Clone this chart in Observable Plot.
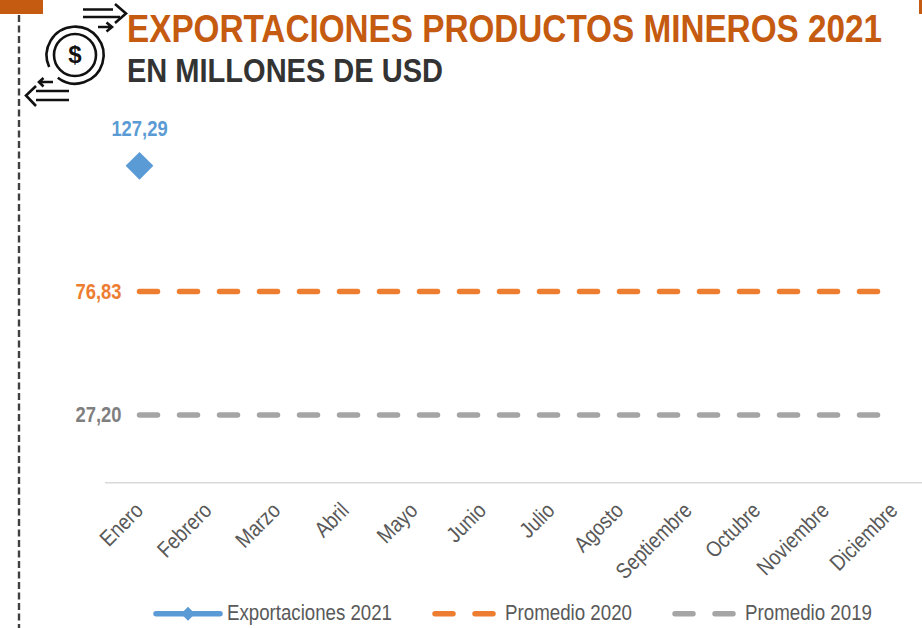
<!DOCTYPE html>
<html><head><meta charset="utf-8">
<script src="https://cdn.jsdelivr.net/npm/d3@7"></script>
<script src="https://cdn.jsdelivr.net/npm/@observablehq/plot@0.6"></script>
<style>
html,body{margin:0;padding:0;background:#fff;overflow:hidden}
#page{position:relative;width:922px;height:628px;overflow:hidden;font-family:"Liberation Sans",sans-serif}
.t{position:absolute;white-space:nowrap;line-height:1;font-weight:700;transform-origin:0 0}
#t1{left:127px;top:9px;font-size:39px;color:#c55a11}
#t2{left:127px;top:53px;font-size:34px;color:#333}
#chart{position:absolute;left:0;top:100px}
#legend{position:absolute;left:0;top:600px;width:922px;height:28px;font-size:22px;color:#595959}
#legend span.l{position:absolute;top:1px;white-space:nowrap;line-height:1.1;transform-origin:0 0}
#legend svg{position:absolute;top:0}
#deco{position:absolute;left:0;top:0}
</style></head><body>
<div id="page">
<svg id="deco" width="922" height="628">
  <rect x="0" y="0" width="43" height="14" fill="#c55a11"/>
  <rect x="919" y="0" width="3" height="14" fill="#c55a11"/>
  <line x1="19" y1="15" x2="19" y2="628" stroke="#404040" stroke-width="2.4" stroke-dasharray="7 3.5"/>
  <g fill="none" stroke="#111" stroke-width="2.6">
    <path d="M49.200 67A28.500 28.500 0 1 1 57.800 77.800"/>
    <circle cx="75" cy="55" r="21"/>
    <path d="M83 9.500H113M83 17H120M115 4l11 9.500-11 9.500M98 27H112M106.500 22.500l5.500 4.500-5.500 4.500"/>
    <path d="M69 91H36M69 100H36M36 86l-10 9.500 10 10.500M53 82H40M43.500 78l-4.500 4 4.500 4.500"/>
  </g>
  <text x="75" y="63" text-anchor="middle" font-size="24" font-weight="700" font-family="Liberation Sans" fill="#111">$</text>
</svg>
<div class="t" id="t1">EXPORTACIONES PRODUCTOS MINEROS 2021</div>
<div class="t" id="t2">EN MILLONES DE USD</div>
<div id="chart"></div>
<div id="legend"></div>
</div>
<script>
const meses = ["Enero","Febrero","Marzo","Abril","Mayo","Junio","Julio","Agosto","Septiembre","Octubre","Noviembre","Diciembre"];
const exportaciones2021 = [127.29];
const promedio2020 = 76.83;
const promedio2019 = 27.20;
const etiquetas = {exp:"127,29", p20:"76,83", p19:"27,20"};
const colores = {exp:"#5b9bd5", p20:"#ed7d31", p19:"#a5a5a5"};
const nombres = ["Exportaciones 2021","Promedio 2020","Promedio 2019"];

const fila20 = meses.map(m => ({m, v: promedio2020}));
const fila19 = meses.map(m => ({m, v: promedio2019}));
const filaExp = exportaciones2021.map((v,i) => ({m: meses[i], v}));
const font = '"Liberation Sans",sans-serif';
const dash = "18 22";

const plot = Plot.plot({
  width: 922, height: 495,
  marginTop: 0, marginBottom: 0, marginLeft: 105, marginRight: 0,
  style: {fontFamily: font, background: "transparent", overflow: "visible"},
  x: {type: "point", domain: meses, range: [139, 893.500], padding: 0, round: false, label: null, axis: null},
  y: {domain: [0, 140], range: [382.300, 33.700], label: null, axis: null},
  marks: [
    Plot.ruleY([0], {stroke: "#d9d9d9", strokeWidth: 1.5}),
    Plot.line(fila19, {x: "m", y: "v", stroke: colores.p19, strokeWidth: 5.5, strokeLinecap: "round", strokeDasharray: dash}),
    Plot.line(fila20, {x: "m", y: "v", stroke: colores.p20, strokeWidth: 5.5, strokeLinecap: "round", strokeDasharray: dash}),
    Plot.dot(filaExp, {x: "m", y: "v", symbol: "diamond2", r: 12.5, fill: colores.exp}),
    Plot.text(filaExp, {x: "m", y: "v", text: () => etiquetas.exp, dy: -37, fill: colores.exp, fontSize: 22, fontWeight: 700}),
    Plot.text(fila20.slice(0,1), {x: "m", y: "v", text: () => etiquetas.p20, dx: -18, textAnchor: "end", fill: colores.p20, fontSize: 22, fontWeight: 700}),
    Plot.text(fila19.slice(0,1), {x: "m", y: "v", text: () => etiquetas.p19, dx: -18, textAnchor: "end", fill: "#7f7f7f", fontSize: 22, fontWeight: 700}),
    Plot.axisX({anchor: "bottom", y: 0, tickSize: 0, tickPadding: 0, tickRotate: -45, textAnchor: "end", fontSize: 22, fill: "#595959", label: null, dy: 24, dx: 0})
  ]
});
document.getElementById("chart").appendChild(plot);

// Liberation Sans stretched to the narrow face of the reference
const names = new Set(meses);
d3.select(plot).selectAll("text").each(function(){
  const narrow = names.has(this.textContent) ? 0.86 : 0.835;
  this.setAttribute("textLength", (this.getComputedTextLength()*narrow).toFixed(1));
  this.setAttribute("lengthAdjust","spacingAndGlyphs");
});

function fit(el, w){ el.style.transform = `scaleX(${w / el.getBoundingClientRect().width})`; }
fit(document.getElementById("t1"), 755);
fit(document.getElementById("t2"), 316);

const leg = document.getElementById("legend");
const items = [
 {x1:156,x2:220,tx:227,tw:165,c:colores.exp,dash:false,name:nombres[0]},
 {x1:435,x2:495,tx:505,tw:127,c:colores.p20,dash:true,name:nombres[1]},
 {x1:675,x2:735,tx:745,tw:127,c:colores.p19,dash:true,name:nombres[2]}
];
for (const it of items){
  const w = it.x2-it.x1;
  const s = d3.create("svg").attr("width",w+8).attr("height",28).style("left",(it.x1-4)+"px");
  s.append("line").attr("x1",4).attr("x2",w+4).attr("y1",13.700).attr("y2",13.700).attr("stroke",it.c).attr("stroke-width",5.5).attr("stroke-linecap","round").attr("stroke-dasharray",it.dash?"18 22":null);
  if(!it.dash) s.append("path").attr("d",`M${w/2+4-7} 13.700l7-7 7 7-7 7z`).attr("fill",it.c);
  leg.appendChild(s.node());
  const sp=document.createElement("span");sp.className="l";sp.style.left=it.tx+"px";sp.textContent=it.name;leg.appendChild(sp);
  fit(sp, it.tw);
}
</script>
</body></html>
